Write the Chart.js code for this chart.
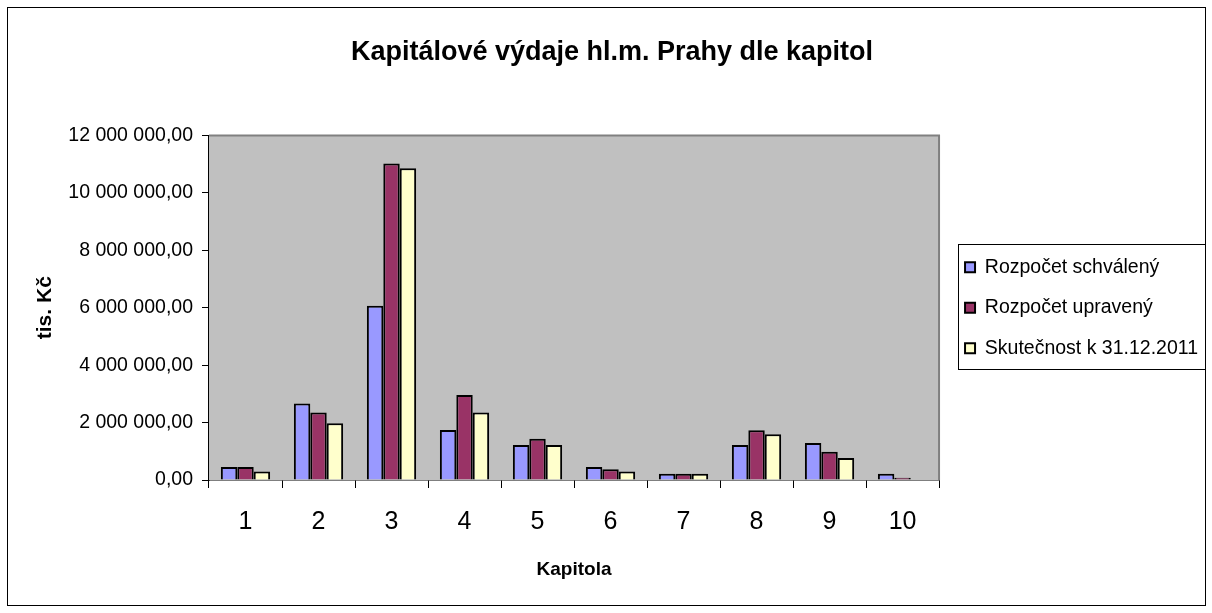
<!DOCTYPE html>
<html lang="cs">
<head>
<meta charset="utf-8">
<title>Kapitálové výdaje hl.m. Prahy dle kapitol</title>
<script src="https://cdn.jsdelivr.net/npm/chart.js@4.4.1/dist/chart.umd.min.js"></script>
<style>
    html, body { margin: 0; padding: 0; background: #ffffff; }
    #wrap { width: 1212px; height: 613px; }
</style>
</head>
<body>
<div id="wrap"><canvas id="chart" width="1212" height="613"></canvas></div>
<script>
const kapitoly = ['1', '2', '3', '4', '5', '6', '7', '8', '9', '10'];
const rozpocetSchvaleny = [450000, 2660000, 6070000, 1740000, 1220000, 450000, 220000, 1220000, 1290000, 220000];
const rozpocetUpraveny = [450000, 2350000, 11020000, 2960000, 1440000, 370000, 220000, 1730000, 980000, 80000];
const skutecnost = [300000, 1980000, 10860000, 2350000, 1220000, 300000, 220000, 1590000, 770000, 0];
const yTicks = [0, 2000000, 4000000, 6000000, 8000000, 10000000, 12000000];

const FONT = '"Liberation Sans", Arial, sans-serif';
const PAD_LEFT = 21;

// plot background, grey frame, legend box and outer border
const frame = {
    id: 'frame',
    afterLayout(chart) {
        // legend items sit a bit further right than the labels padding allows
        chart.legend.left += 5;
        chart.legend.right += 5;
    },
    beforeDatasetsDraw(chart) {
        const { ctx, chartArea: a } = chart;
        ctx.save();
        ctx.fillStyle = '#c0c0c0';
        ctx.fillRect(a.left, a.top, a.right - a.left, a.bottom - a.top);
        ctx.strokeStyle = '#808080';
        ctx.lineWidth = 2;
        ctx.beginPath();
        ctx.moveTo(a.left, a.top);
        ctx.lineTo(a.right, a.top);
        ctx.lineTo(a.right, a.bottom);
        ctx.stroke();
        ctx.restore();
    },
    afterDraw(chart) {
        const { ctx, width, height, legend } = chart;
        ctx.save();
        ctx.strokeStyle = '#000000';
        ctx.lineWidth = 1;
        const boxes = legend.legendHitBoxes;
        if (boxes && boxes.length) {
            const first = boxes[0];
            const last = boxes[boxes.length - 1];
            const left = legend.left + legend.options.labels.padding - 7;
            const top = first.top - 13;
            const bottom = last.top + last.height + 11;
            ctx.strokeRect(Math.round(left) + 0.5, Math.round(top) + 0.5, width - 7 - Math.round(left), Math.round(bottom - top));
        }
        ctx.strokeRect(7.5, 7.5, width - 14, height - 15);
        ctx.restore();
    },
};

function formatCzk(value) {
    const whole = Math.round(value).toString().replace(/\B(?=(\d{3})+(?!\d))/g, ' ');
    return `${whole},00`;
}

function buildDataset(label, data, color) {
    return {
        label,
        data,
        backgroundColor: color,
        borderColor: '#000000',
        borderWidth: 2,
        categoryPercentage: 0.675,
        barPercentage: 1,
    };
}

new Chart(document.getElementById('chart'), {
    type: 'bar',
    data: {
        labels: kapitoly,
        datasets: [
            buildDataset('Rozpočet schválený', rozpocetSchvaleny, '#9999ff'),
            buildDataset('Rozpočet upravený', rozpocetUpraveny, '#993366'),
            buildDataset('Skutečnost k 31.12.2011', skutecnost, '#ffffcc'),
        ],
    },
    options: {
        responsive: false,
        animation: false,
        devicePixelRatio: 1,
        layout: { padding: { left: PAD_LEFT, top: 0, bottom: 0, right: 9 } },
        plugins: {
            title: {
                display: true,
                text: 'Kapitálové výdaje hl.m. Prahy dle kapitol',
                color: '#000000',
                font: { family: FONT, size: 27, weight: 'bold' },
                padding: { top: 36, bottom: 67 },
            },
            legend: {
                position: 'right',
                fullSize: false,
                labels: {
                    color: '#000000',
                    font: { family: FONT, size: 19.5 },
                    boxWidth: 10,
                    boxHeight: 10,
                    padding: 21,
                },
            },
            tooltip: { enabled: false },
        },
        scales: {
            x: {
                grid: { display: true, drawOnChartArea: false, offset: true, tickLength: 8, color: '#000000' },
                border: { color: '#000000', width: 1.5 },
                ticks: { color: '#000000', font: { family: FONT, size: 25 }, padding: 19 },
                title: {
                    display: true,
                    text: 'Kapitola',
                    color: '#000000',
                    font: { family: FONT, size: 19, weight: 'bold' },
                    padding: { top: 0, bottom: 32 },
                },
                afterFit(scale) {
                    scale.height = 133;
                },
            },
            y: {
                min: 0,
                max: 12000000,
                afterBuildTicks(scale) {
                    scale.ticks = yTicks.map((value) => ({ value }));
                },
                grid: { display: true, drawOnChartArea: false, tickLength: 7, color: '#000000' },
                border: { color: '#000000', width: 1.5 },
                ticks: {
                    color: '#000000',
                    font: { family: FONT, size: 19.5 },
                    padding: 9,
                    callback: (value) => formatCzk(value),
                },
                title: {
                    display: true,
                    text: 'tis. Kč',
                    color: '#000000',
                    font: { family: FONT, size: 21, weight: 'bold' },
                    padding: { top: 33 - PAD_LEFT, bottom: 0 },
                },
                afterFit(scale) {
                    scale.width = 209 - PAD_LEFT;
                },
            },
        },
    },
    plugins: [frame],
});
</script>
</body>
</html>
